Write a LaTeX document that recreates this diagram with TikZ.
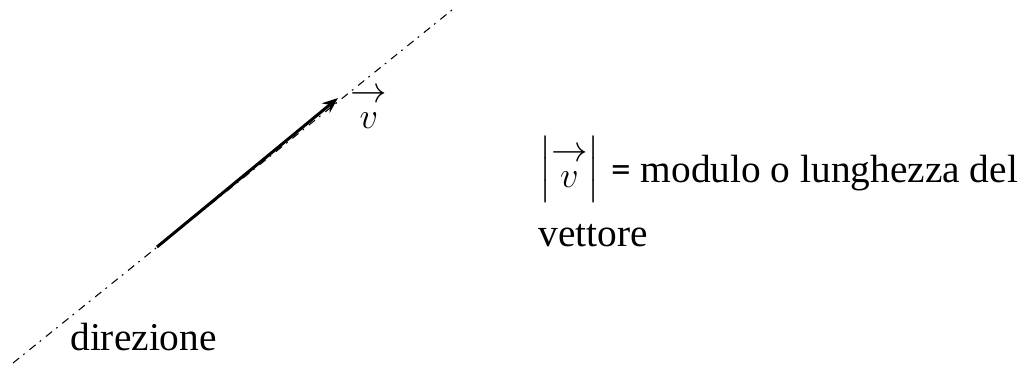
\documentclass[tikz,border=0pt]{standalone}
\usepackage{amsmath}
\usepackage{fontspec}
\setmainfont{Liberation Serif}
\newfontfamily\eqfont{Carlito}
\usetikzlibrary{arrows.meta}
\newcommand{\vecstack}{{\renewcommand{\arraystretch}{0.62}\begin{array}{@{}c@{}}\rightarrow\\ v\end{array}}}
\tikzset{
  dirline/.style={line width=0.6pt, dash pattern=on 4.5pt off 3pt on 1pt off 3.5pt},
  vecline/.style={line width=1.7pt, -{Stealth[length=9pt,width=7pt]}},
  txt/.style={inner sep=0pt, font=\fontsize{22.4}{26}\selectfont},
  mth/.style={inner sep=0pt, font=\fontsize{20}{24}\selectfont}
}
\begin{document}
\begin{tikzpicture}
  \useasboundingbox (0,0) rectangle (20.42,7.32);

  \coordinate (dirA) at (0.26,0.06);
  \coordinate (dirB) at (9.04,7.12);
  \coordinate (vtail) at (3.14,2.38);
  \coordinate (vtip) at (6.76,5.36);

  \draw[dirline] (dirA) -- (dirB);
  \draw[vecline] (vtail) -- (vtip);

  \node[mth] (vname) at (7.38,5.12) {\(\vecstack\)};

  \node[mth] (modv) at (11.39,3.93) {\(\left|\vecstack\right|\)};
  \node[txt, anchor=base west] (modtxt) at (12.22,3.68) {{\eqfont =} modulo o lunghezza del};
  \node[txt, anchor=base west] (modtxt2) at (10.76,2.40) {vettore};

  \node[txt, anchor=base west] (dirlabel) at (1.40,0.32) {direzione};
\end{tikzpicture}
\end{document}
